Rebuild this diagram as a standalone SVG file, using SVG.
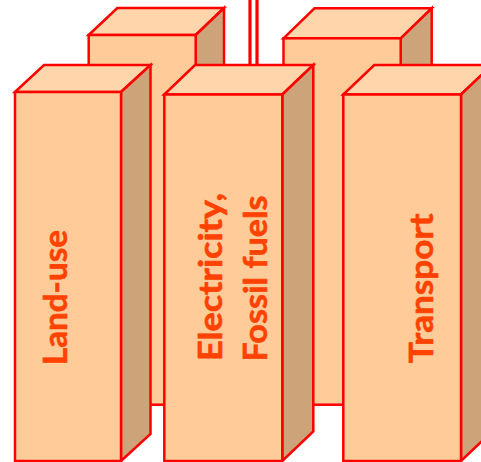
<svg xmlns="http://www.w3.org/2000/svg" width="481" height="462" viewBox="0 0 481 462">
<style>
.front{fill:#FFCC99;stroke:#FF0000;stroke-width:2.5;stroke-linejoin:miter}
.top{fill:#FFD6AC;stroke:#FF0000;stroke-width:2.5;stroke-linejoin:miter}
.side{fill:#CDA37A;stroke:#FF0000;stroke-width:2.5;stroke-linejoin:miter}
.lbl{font-family:Lato,"Liberation Sans",sans-serif;font-weight:bold;font-size:33px;fill:#FF4200;stroke:#FF4200;stroke-width:0.6}
.conn{stroke:#FF0000;stroke-width:3.2;fill:none}
</style>
<rect width="481" height="462" fill="#FFFFFF"/>
<g id="connectors">
<line class="conn" x1="250" y1="0" x2="250" y2="66"/>
<line class="conn" x1="257" y1="0" x2="257" y2="66"/>
</g>
<g id="back-left">
<polygon class="top" points="88.7,35 117.3,8 224,8 195.7,35"/>
<polygon class="side" points="195.7,35 224,8 224,378 195.7,404.7"/>
<rect class="front" x="88.7" y="35" width="107" height="369.7"/>
</g>
<g id="back-right">
<polygon class="top" points="283.5,38.3 314.5,8.3 431.7,8.3 400.7,38.3"/>
<polygon class="side" points="400.7,38.3 431.7,8.3 431.7,375 400.7,404.7"/>
<rect class="front" x="283.5" y="38.3" width="117.2" height="366.4"/>
</g>
<g id="land-use">
<polygon class="top" points="15,92 44,65 150.5,65 121,92"/>
<polygon class="side" points="121,92 150.5,65 150.5,434 121,461"/>
<rect class="front" x="15" y="92" width="106" height="369"/>
<text class="lbl" transform="translate(67,365) rotate(-90)" textLength="135" lengthAdjust="spacingAndGlyphs">Land-use</text>
</g>
<g id="electricity">
<polygon class="top" points="164.3,94.5 195,65 313.3,65 282.3,94.5"/>
<polygon class="side" points="282.3,94.5 313.3,65 313.3,431.5 282.3,461"/>
<rect class="front" x="164.3" y="94.5" width="118" height="366.5"/>
<text class="lbl" transform="translate(221.7,361) rotate(-90)" textLength="168" lengthAdjust="spacingAndGlyphs">Electricity,</text>
<text class="lbl" transform="translate(267.3,361.5) rotate(-90)" textLength="166" lengthAdjust="spacingAndGlyphs">Fossil fuels</text>
</g>
<g id="transport">
<polygon class="top" points="343.3,94.5 374.3,65 492,65 461,94.5"/>
<polygon class="side" points="461,94.5 492,65 492,431.5 461,461"/>
<rect class="front" x="343.3" y="94.5" width="117.7" height="366.5"/>
<text class="lbl" transform="translate(433.3,363.3) rotate(-90)" textLength="150" lengthAdjust="spacingAndGlyphs">Transport</text>
</g>
</svg>
